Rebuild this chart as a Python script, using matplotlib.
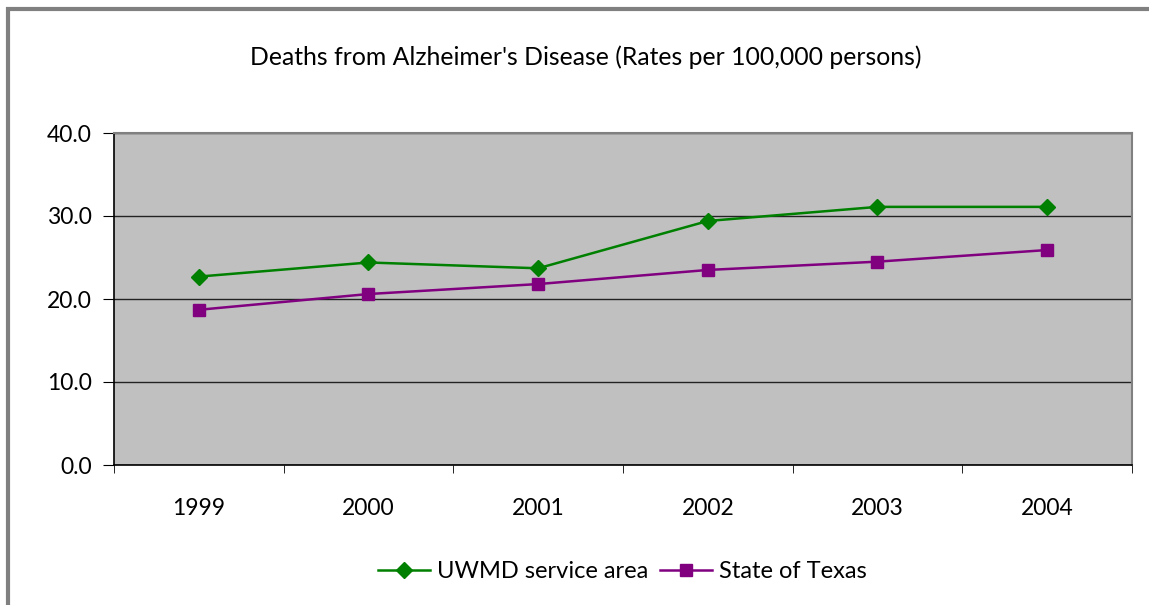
import matplotlib.pyplot as plt
from matplotlib.lines import Line2D
import numpy as np

# data
years = ['1999', '2000', '2001', '2002', '2003', '2004']
uwmd = [22.7, 24.4, 23.7, 29.4, 31.1, 31.1]
texas = [18.7, 20.6, 21.8, 23.5, 24.5, 25.9]
y_ticks = [0, 10, 20, 30, 40]

plt.rcParams['font.family'] = ['Lato', 'DejaVu Sans']

W, H = 1149, 605
fig = plt.figure(figsize=(W / 100, H / 100), dpi=100)
ax = fig.add_axes([114 / W, 1 - 465 / H, (1132 - 114) / W, (465 - 133) / H])

x = np.arange(len(years))
ax.set_facecolor('#c0c0c0')
ax.plot(x, uwmd, color='#008000', lw=1.8, marker='D', ms=8, label='UWMD service area')
ax.plot(x, texas, color='#800080', lw=1.8, marker='s', ms=8, label='State of Texas')

ax.set_xlim(-0.5, len(years) - 0.5)
ax.set_ylim(0, 40)
ax.set_yticks(y_ticks)
ax.set_yticklabels([f'{v:.1f}' for v in y_ticks], fontsize=16.5)
ax.yaxis.grid(True, color='#222222', lw=1)
ax.set_axisbelow(True)

ax.set_xticks(x)
ax.set_xticklabels(years, fontsize=16.5)
ax.tick_params(axis='x', which='major', length=0, pad=24)
ax.set_xticks(np.arange(-0.5, len(years)), minor=True)
ax.tick_params(axis='x', which='minor', length=6, color='black', direction='out')
ax.tick_params(axis='y', length=8, color='black', pad=8)

for s in ['top', 'right']:
    ax.spines[s].set_color('#808080')
    ax.spines[s].set_linewidth(1.5)
for s in ['left', 'bottom']:
    ax.spines[s].set_color('black')
    ax.spines[s].set_linewidth(1.2)

fig.text(586 / W, 1 - 57 / H, "Deaths from Alzheimer's Disease (Rates per 100,000 persons)",
         ha='center', va='center', fontsize=17.8)

fig.legend(loc='center', bbox_to_anchor=(622 / W, 1 - 572 / H), ncol=2, frameon=False,
           fontsize=17, handlelength=2.2, handletextpad=0.3, columnspacing=0.5)

# gray outer border, only left and top edges visible
bx, by = 8 / W, 1 - 9 / H
fig.lines.append(Line2D([bx, bx, 1.0], [0.0, by, by], transform=fig.transFigure,
                        color='#808080', lw=3, solid_joinstyle='miter',
                        solid_capstyle='butt'))

fig.savefig('out.png', dpi=100)
